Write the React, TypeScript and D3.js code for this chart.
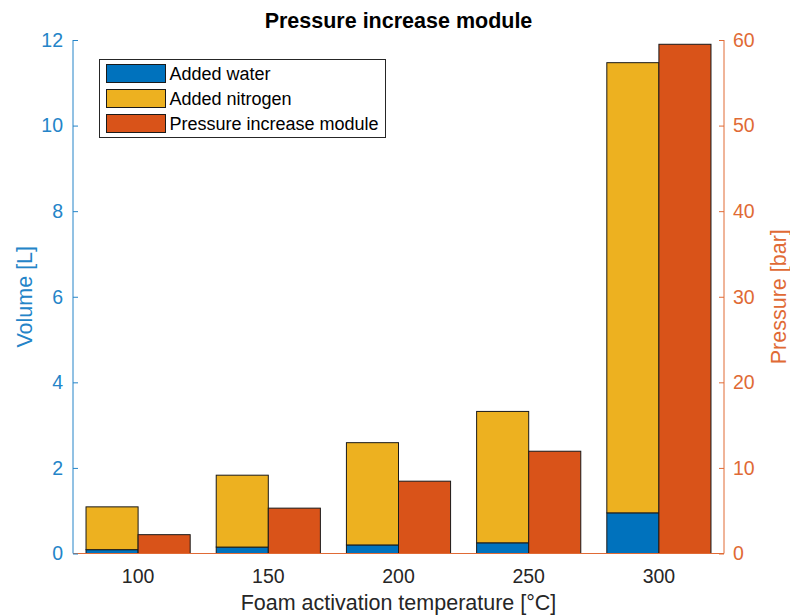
import React, { useEffect, useRef } from 'react';
import * as d3 from 'd3';

// Foam activation temperature [°C]
const temps = ['100', '150', '200', '250', '300'];
// Volume [L] (left axis, stacked)
const addedWater = [0.09, 0.15, 0.2, 0.25, 0.95];
const addedNitrogen = [1.0, 1.68, 2.39, 3.07, 10.52];
// Pressure [bar] (right axis)
const pressure = [2.2, 5.3, 8.45, 11.95, 59.5];

const leftTicks = [0, 2, 4, 6, 8, 10, 12];
const rightTicks = [0, 10, 20, 30, 40, 50, 60];
const seriesNames = ['Added water', 'Added nitrogen', 'Pressure increase module'];

const BLUE = '#0072BD';
const YELLOW = '#EDB120';
const ORANGE = '#D95319';
const LEFT_AXIS = '#2484C8';
const RIGHT_AXIS = '#E06A35';
const FONT = '"Liberation Sans", Arial, sans-serif';

const App = () => {
  const svgRef = useRef<SVGSVGElement>(null);

  useEffect(() => {
    const svg = d3.select(svgRef.current)
      .attr('width', 790)
      .attr('height', 616)
      .style('font-family', FONT);

    svg.selectAll('*').remove();

    const margin = { top: 40, right: 66, bottom: 62.5, left: 73 };
    const width = 790 - margin.left - margin.right;
    const height = 616 - margin.top - margin.bottom;

    const x = d3.scaleBand()
      .domain(temps)
      .range([0, width])
      .padding(0);

    const yL = d3.scaleLinear().domain([0, 12]).range([height, 0]);
    const yR = d3.scaleLinear().domain([0, 60]).range([height, 0]);

    const barW = x.bandwidth() * 0.4;

    const g = svg.append('g')
      .attr('transform', `translate(${margin.left},${margin.top})`);

    // stacked volume bars (left)
    const stacked = temps.map((t, i) => ({ t, w: addedWater[i], n: addedNitrogen[i] }));
    const leftBars = g.append('g');
    leftBars.selectAll('rect.water')
      .data(stacked)
      .enter()
      .append('rect')
      .attr('x', d => x(d.t) + x.bandwidth() / 2 - barW)
      .attr('y', d => yL(d.w))
      .attr('width', barW)
      .attr('height', d => yL(0) - yL(d.w))
      .attr('fill', BLUE)
      .attr('stroke', '#1a1a1a')
      .attr('stroke-width', 1);
    leftBars.selectAll('rect.nitro')
      .data(stacked)
      .enter()
      .append('rect')
      .attr('x', d => x(d.t) + x.bandwidth() / 2 - barW)
      .attr('y', d => yL(d.w + d.n))
      .attr('width', barW)
      .attr('height', d => yL(d.w) - yL(d.w + d.n))
      .attr('fill', YELLOW)
      .attr('stroke', '#1a1a1a')
      .attr('stroke-width', 1);

    // pressure bars (right)
    g.append('g')
      .selectAll('rect')
      .data(temps.map((t, i) => ({ t, v: pressure[i] })))
      .enter()
      .append('rect')
      .attr('x', d => x(d.t) + x.bandwidth() / 2)
      .attr('y', d => yR(d.v))
      .attr('width', barW)
      .attr('height', d => yR(0) - yR(d.v))
      .attr('fill', ORANGE)
      .attr('stroke', '#1a1a1a')
      .attr('stroke-width', 1);

    // x axis
    const xAxis = g.append('g')
      .attr('transform', `translate(0,${height})`)
      .call(d3.axisBottom(x).tickSize(0).tickPadding(16));
    xAxis.select('.domain').attr('stroke', RIGHT_AXIS).attr('d', `M0,0H${width}`);
    xAxis.selectAll('text')
      .style('font-size', '19.5px')
      .style('font-family', FONT)
      .attr('fill', '#262626');

    // left axis
    const left = g.append('g')
      .call(d3.axisLeft(yL).tickValues(leftTicks).tickSize(-5).tickPadding(10));
    left.select('.domain').attr('stroke', LEFT_AXIS).attr('d', `M0,${height}V0`);
    left.selectAll('line').attr('stroke', LEFT_AXIS);
    left.selectAll('text')
      .style('font-size', '19.5px')
      .style('font-family', FONT)
      .attr('fill', LEFT_AXIS);

    // right axis
    const right = g.append('g')
      .attr('transform', `translate(${width},0)`)
      .call(d3.axisRight(yR).tickValues(rightTicks).tickSize(-5).tickPadding(9));
    right.select('.domain').attr('stroke', RIGHT_AXIS).attr('d', `M0,${height}V0`);
    right.selectAll('line').attr('stroke', RIGHT_AXIS);
    right.selectAll('text')
      .style('font-size', '19.5px')
      .style('font-family', FONT)
      .attr('fill', RIGHT_AXIS);

    // title and labels
    svg.append('text')
      .attr('x', margin.left + width / 2)
      .attr('y', 28)
      .attr('text-anchor', 'middle')
      .style('font-size', '21.5px')
      .style('font-weight', 'bold')
      .attr('fill', '#000')
      .text('Pressure increase module');

    svg.append('text')
      .attr('x', margin.left + width / 2)
      .attr('y', 610)
      .attr('text-anchor', 'middle')
      .style('font-size', '21.5px')
      .attr('fill', '#262626')
      .text('Foam activation temperature [°C]');

    svg.append('text')
      .attr('transform', `translate(32,${margin.top + height / 2}) rotate(-90)`)
      .attr('text-anchor', 'middle')
      .style('font-size', '21.5px')
      .attr('fill', LEFT_AXIS)
      .text('Volume [L]');

    svg.append('text')
      .attr('transform', `translate(786,${margin.top + height / 2}) rotate(-90)`)
      .attr('text-anchor', 'middle')
      .style('font-size', '21.5px')
      .attr('fill', RIGHT_AXIS)
      .text('Pressure [bar]');

    // legend
    const legend = svg.append('g').attr('transform', 'translate(99.5,59.5)');
    legend.append('rect')
      .attr('width', 286)
      .attr('height', 78)
      .attr('fill', '#fff')
      .attr('stroke', '#262626')
      .attr('stroke-width', 1);
    const colors = [BLUE, YELLOW, ORANGE];
    seriesNames.forEach((name, i) => {
      legend.append('rect')
        .attr('x', 7)
        .attr('y', 5 + i * 25)
        .attr('width', 59)
        .attr('height', 18)
        .attr('fill', colors[i])
        .attr('stroke', '#1a1a1a')
        .attr('stroke-width', 1);
      legend.append('text')
        .attr('x', 70)
        .attr('y', 14.5 + i * 25)
        .attr('dy', '0.35em')
        .style('font-size', '18px')
        .attr('fill', '#000')
        .text(name);
    });
  }, []);

  return <svg ref={svgRef} style={{ position: 'absolute', left: 0, top: 0 }}></svg>;
};

export default App;
